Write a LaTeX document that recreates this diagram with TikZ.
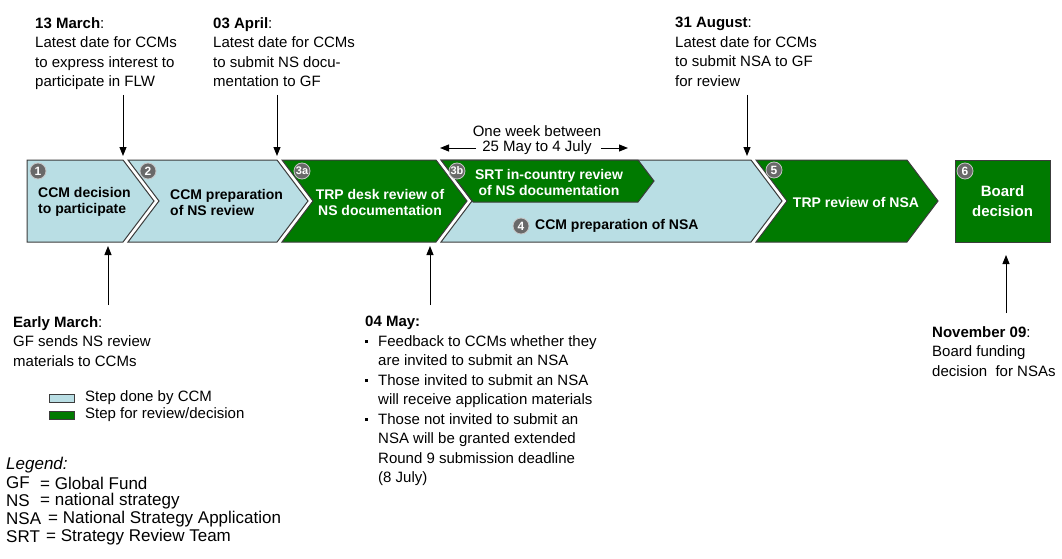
\documentclass[tikz,border=0pt]{standalone}
\usepackage{fontspec}
\setmainfont{Liberation Sans}
\usetikzlibrary{arrows.meta}
\definecolor{ccmblue}{RGB}{185,222,228}
\definecolor{revgreen}{RGB}{0,122,0}
\definecolor{edgegray}{RGB}{60,60,60}
\definecolor{badgegray}{RGB}{105,105,105}
\newcommand{\bul}{\makebox[13pt][l]{\rule[3pt]{3.2pt}{3.2pt}}}
\newcommand{\ind}{\hspace*{13pt}}
\begin{document}
\begin{tikzpicture}[x=1pt,y=-1pt,
  stepccm/.style={fill=ccmblue,draw=edgegray,line width=1pt},
  steprev/.style={fill=revgreen,draw=edgegray,line width=1pt},
  badge/.style={circle,fill=badgegray,draw=gray!45,line width=0.8pt,inner sep=0pt,
    minimum size=16pt,text=white,font=\bfseries\fontsize{12}{12}\selectfont},
  steptxt/.style={font=\bfseries\fontsize{14}{16}\selectfont,inner sep=0pt},
  note/.style={font=\fontsize{15}{19.5}\selectfont,align=left,anchor=north west,inner sep=0pt},
  plain/.style={font=\fontsize{15}{18}\selectfont,inner sep=0pt},
  legtxt/.style={font=\fontsize{17}{17}\selectfont,inner sep=0pt,anchor=west},
  pointer/.style={draw=black,line width=1pt,-{Triangle[length=9pt,width=7pt]}},
  legbox/.style={draw=edgegray,line width=0.8pt,minimum width=25pt,minimum height=8pt,inner sep=0pt},
]
\path[use as bounding box] (0,0) rectangle (1062,559);

% chevrons
\path[stepccm] (27,160) -- (123,160) -- (154,201) -- (123,242) -- (27,242) -- cycle;
\path[stepccm] (128,160) -- (277,160) -- (308,201) -- (277,242) -- (128,242) -- (159,201) -- cycle;
\path[steprev] (282,160) -- (436,160) -- (467,201) -- (436,242) -- (282,242) -- (313,201) -- cycle;
\path[stepccm] (441,160) -- (751,160) -- (782,201) -- (751,242) -- (441,242) -- (472,201) -- cycle;
\path[steprev] (441,160) -- (638,160) -- (654,181) -- (638,202) -- (473,202) -- cycle;
\path[steprev] (756,160) -- (907,160) -- (938,201) -- (907,242) -- (756,242) -- (787,201) -- cycle;
\node[steprev,minimum width=95pt,minimum height=82pt,inner sep=0pt] (board) at (1002.5,201) {};

% badges
\node[badge] (b1) at (38,171) {1};
\node[badge] (b2) at (148,171) {2};
\node[badge,font=\bfseries\fontsize{11}{11}\selectfont] (b3a) at (302,171) {3a};
\node[badge,font=\bfseries\fontsize{11}{11}\selectfont] (b3b) at (457,171) {3b};
\node[badge] (b4) at (521,226) {4};
\node[badge] (b5) at (774,170) {5};
\node[badge] (b6) at (965,171) {6};

% step texts
\node[steptxt,anchor=west,align=left] (t1) at (38,202) {CCM decision\\to participate};
\node[steptxt,anchor=west,align=left] (t2) at (170,202) {CCM preparation\\of NS review};
\node[steptxt,text=white,align=center] (t3a) at (380,202) {TRP desk review of\\NS documentation};
\node[steptxt,text=white,align=center] (t3b) at (549,182) {SRT in-country review\\of NS documentation};
\node[steptxt,anchor=west] (t4) at (535,226) {CCM preparation of NSA};
\node[steptxt,text=white] (t5) at (856,202) {TRP review of NSA};
\node[steptxt,text=white,align=center,font=\bfseries\fontsize{15}{20}\selectfont] (t6) at (board.center) {Board\\decision};

% notes above
\node[note] (n13) at (35,17) {\textbf{13 March}:\\Latest date for CCMs\\to express interest to\\participate in FLW};
\node[note] (n03) at (213,17) {\textbf{03 April}:\\Latest date for CCMs\\to submit NS docu-\\mentation to GF};
\node[note] (n31) at (675,17) {\textbf{31 August}:\\Latest date for CCMs\\to submit NSA to GF\\for review};
\node[plain] (wk1) at (537,131) {One week between};
\node[plain] (wk2) at (537,148) {25 May to 4 July};

% notes below
\node[note] (nem) at (13,316) {\textbf{Early March}:\\GF sends NS review\\materials to CCMs};
\node[note] (n04) at (365,316) {\textbf{04 May:}\\
\bul Feedback to CCMs whether they\\
\ind are invited to submit an NSA\\
\bul Those invited to submit an NSA\\
\ind will receive application materials\\
\bul Those not invited to submit an\\
\ind NSA will be granted extended\\
\ind Round 9 submission deadline\\
\ind (8 July)};
\node[note] (nnov) at (932,326) {\textbf{November 09}:\\Board funding\\decision \ for NSAs};

% arrow coordinates
\coordinate (a1s) at (123,95);  \coordinate (a1e) at (123,156);
\coordinate (a2s) at (277,95);  \coordinate (a2e) at (277,156);
\coordinate (a3s) at (747,95);  \coordinate (a3e) at (747,156);
\coordinate (a4s) at (108,305); \coordinate (a4e) at (108,246);
\coordinate (a5s) at (430,305); \coordinate (a5e) at (430,246);
\coordinate (a6s) at (1006,313); \coordinate (a6e) at (1006,255);
\coordinate (wkl) at (440,148); \coordinate (wkr) at (628,148);

\draw[pointer] (a1s) -- (a1e);
\draw[pointer] (a2s) -- (a2e);
\draw[pointer] (a3s) -- (a3e);
\draw[pointer] (a4s) -- (a4e);
\draw[pointer] (a5s) -- (a5e);
\draw[pointer] (a6s) -- (a6e);
\draw[pointer] ([xshift=-6pt]wk2.west) -- (wkl);
\draw[pointer] ([xshift=9pt]wk2.east) -- (wkr);

% legend boxes
\node[legbox,fill=ccmblue] (lg1) at (61.5,398) {};
\node[plain,anchor=west] (lt1) at (85,398) {Step done by CCM};
\node[legbox,fill=revgreen] (lg2) at (61.5,415) {};
\node[plain,anchor=west] (lt2) at (85,415) {Step for review/decision};

% abbreviations
\node[legtxt,font=\itshape\fontsize{17}{17}\selectfont] (leg) at (6,465) {Legend:};
\node[legtxt] (gf) at (6,483) {GF};
\node[legtxt] (gfd) at (40,483) {= Global Fund};
\node[legtxt] (ns) at (6,501) {NS};
\node[legtxt] (nsd) at (40,501) {= national strategy};
\node[legtxt] (nsa) at (6,519) {NSA};
\node[legtxt] (nsad) at (48,519) {= National Strategy Application};
\node[legtxt] (srt) at (6,537) {SRT};
\node[legtxt] (srtd) at (46,537) {= Strategy Review Team};
\end{tikzpicture}
\end{document}
